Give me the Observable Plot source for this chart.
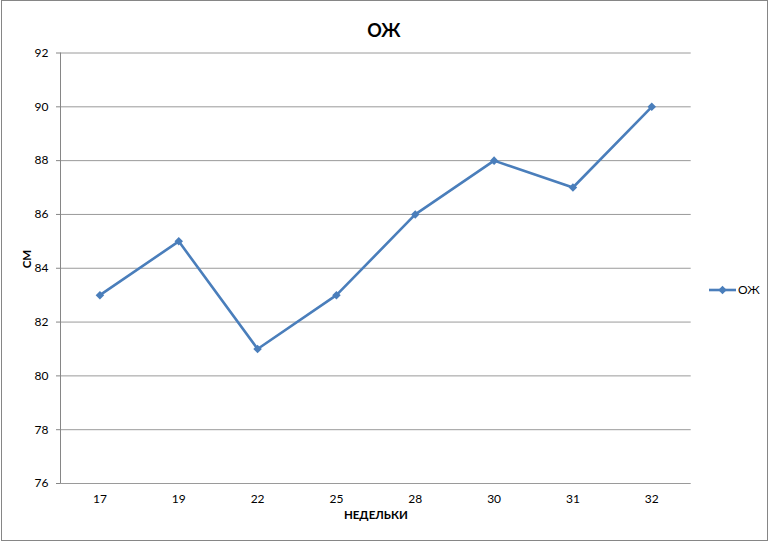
<!DOCTYPE html>
<html>
<head>
<meta charset="utf-8">
<script src="https://cdn.jsdelivr.net/npm/d3@7"></script>
<script src="https://cdn.jsdelivr.net/npm/@observablehq/plot@0.6"></script>
<style>
  html, body { margin: 0; padding: 0; background: #fff; }
  #chart { width: 770px; height: 543px; }
  svg { font-family: Lato, "Open Sans", sans-serif; }
</style>
</head>
<body>
<div id="chart"></div>
<script>
const weeks = ["17", "19", "22", "25", "28", "30", "31", "32"];
const values = [83, 85, 81, 83, 86, 88, 87, 90];
const yTicks = [76, 78, 80, 82, 84, 86, 88, 90, 92];
const title = "ОЖ";
const seriesName = "ОЖ";
const xLabel = "НЕДЕЛЬКИ";
const yLabel = "СМ";

const data = weeks.map((w, i) => ({week: w, value: values[i]}));
const color = "#4A7EBB";
const W = 770, H = 543;
const mL = 60, mR = 79.3, mT = 52.5, mB = 60;

const plot = Plot.plot({
  width: W,
  height: H,
  marginLeft: mL,
  marginRight: mR,
  marginTop: mT,
  marginBottom: mB,
  style: {fontFamily: "Lato, 'Open Sans', sans-serif", fontSize: "12px", color: "#000", background: "transparent", overflow: "visible"},
  x: {type: "point", domain: weeks, padding: 0.5, round: false, label: null},
  y: {domain: [76, 92], label: null},
  marks: [
    Plot.ruleY(yTicks, {stroke: "#9a9a9a", strokeWidth: 1}),
    Plot.axisY({ticks: yTicks, tickSize: 4, tickPadding: 8, stroke: "#868686", label: null, fill: "#000"}),
    Plot.axisX({tickSize: 0, tickPadding: 11, label: null, fill: "#000"}),
    Plot.line(data, {x: "week", y: "value", stroke: color, strokeWidth: 2.6}),
    Plot.dot(data, {x: "week", y: "value", symbol: "square", rotate: 45, r: 3.4, fill: color}),
    Plot.text([title], {frameAnchor: "top", dx: 8, dy: -29, fontSize: 18, fontWeight: "bold", fill: "#000"}),
    Plot.text([xLabel], {frameAnchor: "bottom", dy: 35, fontSize: 11.5, fontWeight: "bold", fill: "#000"}),
    Plot.text([yLabel], {frameAnchor: "left", dx: -33, rotate: -90, fontSize: 11.5, fontWeight: "bold", fill: "#000"})
  ]
});

const svg = d3.select(plot);
// outer chart border
svg.insert("rect", ":first-child")
  .attr("x", 1.5).attr("y", 0.5).attr("width", 766).attr("height", 540)
  .attr("fill", "#fff").attr("stroke", "#868686").attr("stroke-width", 1);
// left axis line
svg.append("line").attr("x1", mL + 0.5).attr("x2", mL + 0.5).attr("y1", mT).attr("y2", H - mB)
  .attr("stroke", "#868686");
// legend
const lg = svg.append("g").attr("transform", "translate(709,290)");
lg.append("line").attr("x1", 0).attr("x2", 27).attr("y1", 0).attr("y2", 0)
  .attr("stroke", color).attr("stroke-width", 2.6);
lg.append("rect").attr("x", -3).attr("y", -3).attr("width", 6).attr("height", 6)
  .attr("transform", "translate(13.5,0) rotate(45)").attr("fill", color);
lg.append("text").attr("x", 29).attr("y", 0).attr("dy", "0.35em").attr("font-size", 12)
  .attr("text-anchor", "start").attr("fill", "#000").text(seriesName);

document.getElementById("chart").appendChild(plot);
</script>
</body>
</html>
